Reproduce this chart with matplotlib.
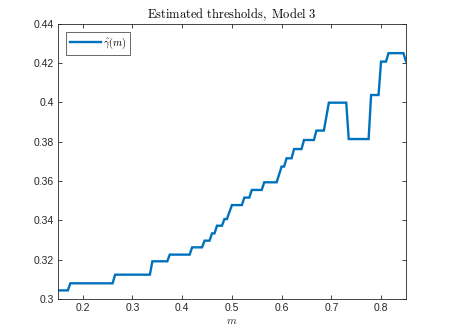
import matplotlib
matplotlib.use("Agg")
import matplotlib.pyplot as plt
import numpy as np

# Step levels: (start m, end m, gamma value)
level_start = [0.150, 0.175, 0.265, 0.340, 0.375, 0.420, 0.445, 0.460, 0.470, 0.485,
               0.500, 0.525, 0.540, 0.565, 0.600, 0.610, 0.625, 0.645, 0.670, 0.695,
               0.735, 0.780, 0.800, 0.815, 0.850]
level_end = [0.170, 0.260, 0.335, 0.370, 0.415, 0.440, 0.455, 0.465, 0.480, 0.490,
             0.520, 0.535, 0.560, 0.590, 0.605, 0.620, 0.640, 0.665, 0.685, 0.730,
             0.775, 0.795, 0.810, 0.845, 0.850]
gamma_level = [0.3044, 0.3080, 0.3124, 0.3192, 0.3226, 0.3263, 0.3297, 0.3334, 0.3373, 0.3407,
               0.3478, 0.3516, 0.3555, 0.3594, 0.3674, 0.3716, 0.3763, 0.3809, 0.3857, 0.3999,
               0.3814, 0.4038, 0.4208, 0.4251, 0.4210]

xticks = [0.2, 0.3, 0.4, 0.5, 0.6, 0.7, 0.8]
xticklabels = ["0.2", "0.3", "0.4", "0.5", "0.6", "0.7", "0.8"]
yticks = [0.30, 0.32, 0.34, 0.36, 0.38, 0.40, 0.42, 0.44]
yticklabels = ["0.3", "0.32", "0.34", "0.36", "0.38", "0.4", "0.42", "0.44"]

m_pts = []
g_pts = []
for s, e, g in zip(level_start, level_end, gamma_level):
    m_pts += [s, e]
    g_pts += [g, g]

plt.rcParams['mathtext.fontset'] = 'cm'
plt.rcParams['font.family'] = ['Liberation Sans', 'DejaVu Sans']

fig = plt.figure(figsize=(4.49, 3.36), dpi=100)
ax = fig.add_axes([0.129, 0.110, 0.775, 0.819])
ax.plot(m_pts, g_pts, color='#0072BD', lw=1.7, label=r'$\hat{\gamma}(m)$', solid_joinstyle='miter')
ax.set_xlim(0.15, 0.85)
ax.set_ylim(0.30, 0.44)
ax.set_xticks(xticks)
ax.set_xticklabels(xticklabels)
ax.set_yticks(yticks)
ax.set_yticklabels(yticklabels)
gray = '#262626'
for sp in ax.spines.values():
    sp.set_color('#262626')
    sp.set_linewidth(0.6)
ax.tick_params(direction='in', length=3, width=0.6, colors=gray, labelsize=7.5,
               top=True, right=True, pad=3)
ax.set_xlabel(r'$m$', fontsize=8, color=gray, labelpad=2)
ax.set_title(r'$\mathrm{Estimated\ thresholds,\ Model\ 3}$', fontsize=9, color='black', pad=4)
leg = ax.legend(loc='upper left', fontsize=7.5, frameon=True, fancybox=False,
                handlelength=3.0, borderaxespad=0.8, borderpad=0.35, handletextpad=0.2)
leg.get_frame().set_edgecolor(gray)
leg.get_frame().set_linewidth(0.6)
fig.savefig('out.png', dpi=100)
